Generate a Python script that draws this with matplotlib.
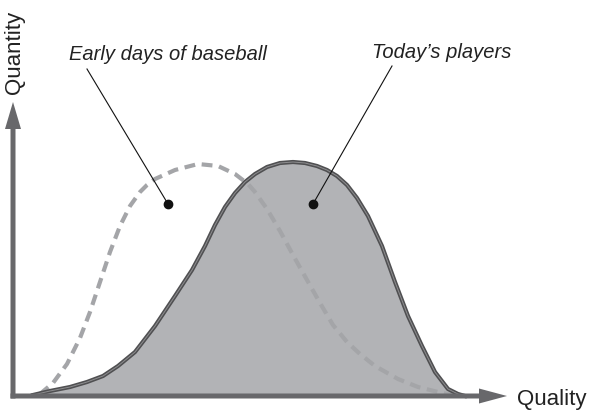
import matplotlib.pyplot as plt
import numpy as np

plt.rcParams['font.family'] = ['Liberation Sans', 'DejaVu Sans']

# quality (x) and quantity (y), origin at the axes corner
today_quality = [20, 37, 57, 74, 90, 105, 122, 142, 162, 179, 192, 202, 212,
                 222, 232, 242, 254, 267, 280, 292, 304, 314, 324, 334, 344,
                 355, 369, 382, 395, 409, 422, 435, 445, 452]
today_quantity = [1, 5, 9, 14, 20, 30, 44, 70, 100, 126, 150, 171, 189,
                  203, 214, 222, 229, 233, 234, 233, 230, 226, 220, 211, 198,
                  180, 150, 114, 80, 50, 24, 7, 2, 0]

early_quality = [27, 40, 54, 67, 77, 87, 97, 107, 117, 127, 134, 142, 162,
                 185, 205, 222, 235, 242, 254, 267, 280, 294, 307, 320, 334,
                 347, 362, 385, 405, 425, 439, 445]
early_quantity = [2, 13, 32, 58, 84, 114, 144, 170, 190, 204, 211, 217, 226,
                  232, 230, 222, 212, 204, 187, 165, 141, 116, 93, 71, 54,
                  42, 30, 17, 9, 4, 1, 0]

x_label = 'Quality'
y_label = 'Quantity'
series_labels = ['Early days of baseball', "Today\u2019s players"]

axis_col = '#68686b'
fill_col = '#b2b3b6'
edge_col = '#505052'
dash_col = '#a4a5a8'

fig = plt.figure(figsize=(5.91, 4.14), dpi=100)
ax = fig.add_axes([0, 0, 1, 1])
ax.set_xlim(-13, 578)
ax.set_ylim(-17, 397)
ax.axis('off')

# today's players: filled curve with dark double outline
ax.fill_between(today_quality, today_quantity, 0, color=fill_col, lw=0, zorder=1)
ax.plot(early_quality, early_quantity, color=dash_col, lw=3.0,
        linestyle=(0, (2.6, 1.6)), solid_capstyle='butt', zorder=2)
ax.plot(today_quality, today_quantity, color=edge_col, lw=3.0,
        solid_joinstyle='round', zorder=3)
ax.plot(today_quality, today_quantity, color='#8e8e90', lw=0.7,
        solid_joinstyle='round', zorder=4)

# axes arrows
ax.arrow(0, -2.5, 0, 296.5, width=5, head_width=16, head_length=27,
         length_includes_head=True, color=axis_col, lw=0, zorder=5)
ax.arrow(-2.5, 0, 496.5, 0, width=5, head_width=15, head_length=28,
         length_includes_head=True, color=axis_col, lw=0, zorder=5)

ax.text(504, -3, x_label, fontsize=16, ha='left', va='center', color='#222222')
ax.text(1, 303, y_label, fontsize=16, rotation=90, rotation_mode='anchor',
        ha='left', va='center', color='#222222')

# labels with leader lines and dots
label_pos = [(155, 342), (429, 345)]
line_start = [(74, 327), (379, 330)]
dot_pos = [(155, 192), (300, 192)]
for lab, tp, ls, dp in zip(series_labels, label_pos, line_start, dot_pos):
    ax.text(tp[0], tp[1], lab, fontsize=14.5, style='italic',
            ha='center', va='center', color='#222222')
    ax.plot([ls[0], dp[0]], [ls[1], dp[1]], color='#111111', lw=0.8, zorder=6)
    ax.plot(dp[0], dp[1], 'o', color='#111111', ms=6, zorder=7)

fig.savefig('out.png', dpi=100)
